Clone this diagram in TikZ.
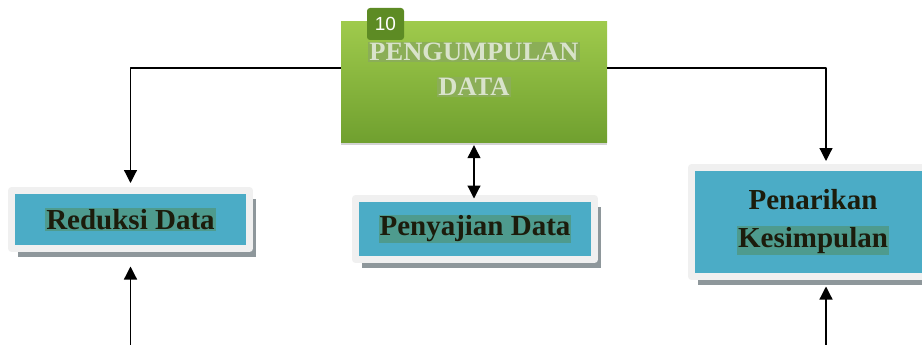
\documentclass[tikz,border=0pt]{standalone}
\usepackage{fontspec}
\setmainfont{Liberation Serif}
\newfontfamily\badgefont{Liberation Sans}
\usetikzlibrary{arrows.meta,shadows}
\definecolor{boxblue}{HTML}{4BACC6}
\definecolor{hlblue}{HTML}{4E9B8E}
\definecolor{framegray}{HTML}{F0F0F0}
\definecolor{shadegray}{HTML}{8E979B}
\definecolor{greentop}{HTML}{9FCA4C}
\definecolor{greenbot}{HTML}{70A02F}
\definecolor{hlgreen}{HTML}{8BAE57}
\definecolor{badgegreen}{HTML}{5D8B24}
\definecolor{txtdark}{HTML}{1C1C0C}
\definecolor{txtlight}{HTML}{D9E3CB}
\setlength{\fboxsep}{1pt}
\newcommand{\hlb}[1]{\colorbox{hlblue}{#1}}
\newcommand{\hlg}[1]{\colorbox{hlgreen}{#1}}
\tikzset{
 stagebox/.style={rectangle, fill=boxblue, draw=framegray, line width=7pt, align=center, text=txtdark,
  font=\fontsize{29}{38}\selectfont\bfseries,
  drop shadow={shadow xshift=6pt, shadow yshift=-8pt, fill=shadegray, opacity=1}},
 greenbox/.style={rectangle, top color=greentop, bottom color=greenbot,
  minimum width=266pt, minimum height=120pt, drop shadow={shadow xshift=0pt, shadow yshift=-3pt, opacity=.35}},
 greentext/.style={align=center, text=txtlight, font=\fontsize{26.5}{35}\selectfont\bfseries},
 badge/.style={rectangle, rounded corners=3pt, fill=badgegreen, text=white, inner sep=0pt,
  minimum width=37pt, minimum height=32pt, font=\badgefont\fontsize{19}{19}\selectfont}
}
\begin{document}
\begin{tikzpicture}[line join=round, >={Triangle[width=13pt,length=13pt]}]
 \begin{scope}[x=1pt,y=-1pt]
 \useasboundingbox (0,0) rectangle (922,345);
 \clip (0,0) rectangle (922,345);
 \node[greenbox] (pg) at (474,82) {};
 \node[greentext] (pgt) at (474,69.5) {\hlg{PENGUMPULAN}\\\hlg{DATA}};
 \node[badge] (nr) at (385.5,24) {10};
 \node[stagebox, minimum width=238pt, minimum height=58pt] (rd) at (130.5,219.5) {\hlb{Reduksi Data}};
 \node[stagebox, minimum width=239pt, minimum height=61pt] (ps) at (475,229) {\hlb{Penyajian Data}};
 \node[stagebox, minimum width=243pt, minimum height=109pt] (pk) at (813,222) {Penarikan\\\hlb{Kesimpulan}};
 \coordinate (rdin) at (130.5,345);
 \coordinate (pkin) at (826,345);
 \draw[line width=1.2pt,->,shorten >=4pt] ([yshift=14pt]pg.west) -| (rd.north);
 \draw[line width=1.2pt,->,shorten >=3pt] ([yshift=14pt]pg.east) -| ([xshift=13pt]pk.north);
 \draw[line width=1.2pt,<->,shorten <=3pt,shorten >=-3.5pt] (pg.south) -- (pg.south |- ps.north);
 \draw[line width=1.2pt,->,shorten >=14.5pt] (rdin) -- (rd.south);
 \draw[line width=1.2pt,->,shorten >=6.5pt] (pkin) -- (pkin |- pk.south);
 \end{scope}
\end{tikzpicture}
\end{document}
